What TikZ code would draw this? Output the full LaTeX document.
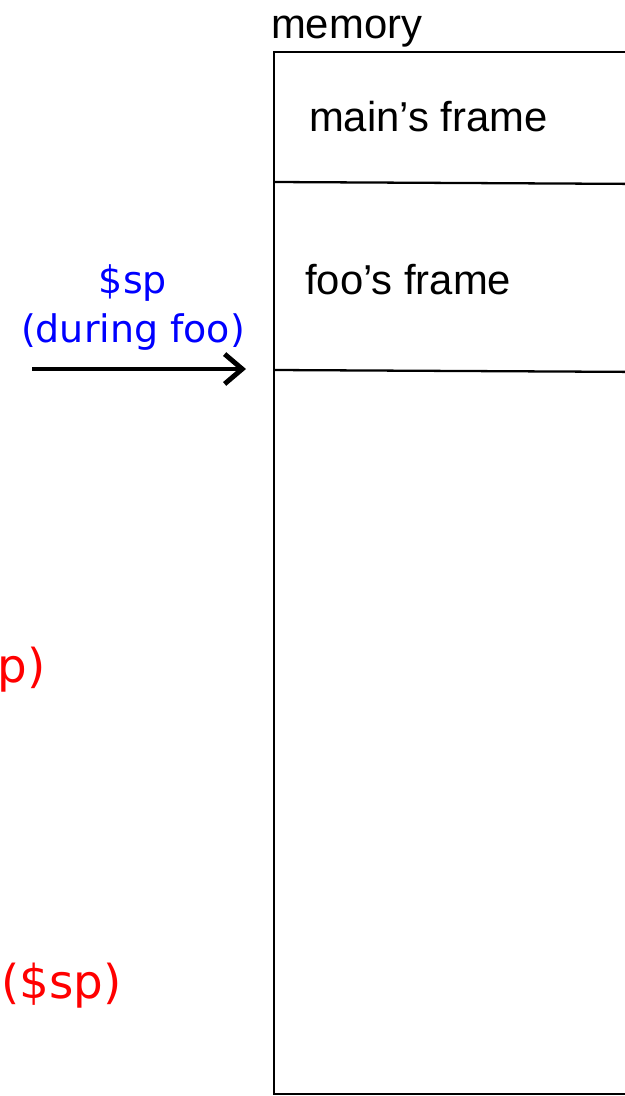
\documentclass[tikz,border=0pt]{standalone}
\usepackage{fontspec}
\setmainfont{Liberation Sans}
\newfontfamily\labelfont{DejaVu Sans}
\usetikzlibrary{arrows.meta}

\tikzset{
  frametext/.style={anchor=base west,inner sep=0pt,font=\fontsize{23.8}{28}\selectfont},
  splabel/.style={inner sep=0pt,text=blue,align=center,font=\labelfont\fontsize{21.6}{27.8}\selectfont},
  oldsp/.style={anchor=base east,inner sep=0pt,text=red,font=\labelfont\fontsize{26.6}{32}\selectfont}
}

\begin{document}
\begin{tikzpicture}[x=0.02cm,y=-0.02cm,line width=1.3pt]
\useasboundingbox (0,0) rectangle (625,1096);
\clip (0,0) rectangle (625,1096);
% the memory column
\coordinate (tl) at (274,52);
\coordinate (br) at (650,1094);
\draw (tl) rectangle (br);
\coordinate (div1) at (274,182);
\coordinate (div2) at (274,370);
\draw (div1) -- (650,184);
\draw (div2) -- (650,372);
\node[frametext] (mem)  at (270,38)  {memory};
\node[frametext] (main) at (308,131) {main’s frame};
\node[frametext] (foo)  at (304,294) {foo’s frame};
% stack pointer while foo runs
\node[splabel,anchor=base] (sp) at (133,342) {\$sp\\(during foo)};
\coordinate (sptail) at (32,369);
\coordinate (sphead) at (246,369);
\draw[line width=2.8pt,-{Straight Barb[length=10pt,width=17pt]}] (sptail) -- (sphead);
% other $sp positions, cut at the left
\node[oldsp] (spa) at (47,682) {p)};
\node[oldsp] (spb) at (123,998) {(\$sp)};
\end{tikzpicture}
\end{document}
